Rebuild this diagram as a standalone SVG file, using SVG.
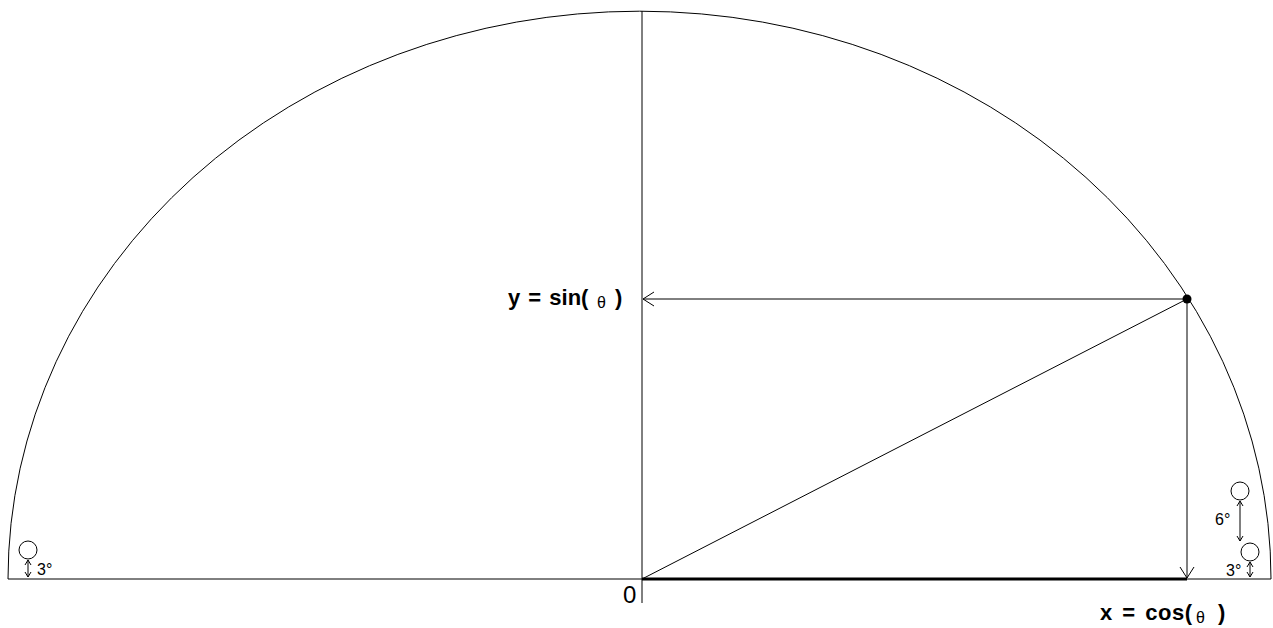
<svg xmlns="http://www.w3.org/2000/svg" width="1273" height="628" viewBox="0 0 1273 628">
<style>
.ln{stroke:#000;stroke-width:1;fill:none}
.lbl{font-family:"Liberation Sans",Arial,sans-serif;font-size:22px;font-weight:bold;fill:#000}
.th{font-family:"Liberation Sans",Arial,sans-serif;font-size:16px;fill:#000}
.sm{font-family:"Liberation Sans",Arial,sans-serif;font-size:16px;fill:#000}
.cir{stroke:#000;stroke-width:1;fill:#fff}
</style>
<defs>
<marker id="open" markerWidth="14" markerHeight="16" refX="12" refY="8" orient="auto" markerUnits="userSpaceOnUse">
<path d="M1,1 L12,8 L1,15" fill="none" stroke="#000" stroke-width="1"/>
</marker>
<marker id="sm" markerWidth="8" markerHeight="8" refX="6" refY="4" orient="auto-start-reverse" markerUnits="userSpaceOnUse">
<path d="M1,1 L6,4 L1,7" fill="none" stroke="#000" stroke-width="1"/>
</marker>
</defs>
<rect width="1273" height="628" fill="#fff"/>
<g id="arc">
<path class="ln" d="M8,579 A631.5,568 0 0 1 1271,579"/>
</g>
<g id="connectors">
<line class="ln" x1="8" y1="579" x2="1271" y2="579"/>
<line class="ln" x1="642" y1="11" x2="642" y2="603"/>
<line x1="642" y1="579" x2="1187" y2="579" stroke="#000" stroke-width="3"/>
<line class="ln" x1="642" y1="579" x2="1187" y2="299"/>
<line class="ln" x1="1187" y1="299" x2="643" y2="299" marker-end="url(#open)"/>
<line class="ln" x1="1187" y1="299" x2="1187" y2="578" marker-end="url(#open)"/>
<line class="ln" x1="28" y1="560" x2="28" y2="577" marker-start="url(#sm)" marker-end="url(#sm)"/>
<line class="ln" x1="1240" y1="501" x2="1240" y2="541" marker-start="url(#sm)" marker-end="url(#sm)"/>
<line class="ln" x1="1250" y1="562" x2="1250" y2="577" marker-start="url(#sm)" marker-end="url(#sm)"/>
</g>
<g id="point">
<circle cx="1187" cy="299" r="4.5" fill="#000"/>
</g>
<g id="origin">
<text x="623" y="603" class="lbl" style="font-weight:normal;font-size:24px">0</text>
</g>
<g id="sin-label">
<text x="508" y="305" class="lbl" style="word-spacing:2px">y = sin(</text>
<text x="597" y="308" class="th">θ</text>
<text x="615" y="305" class="lbl">)</text>
</g>
<g id="cos-label">
<text x="1100" y="620" class="lbl" style="word-spacing:3px;letter-spacing:0.5px">x = cos(</text>
<text x="1196" y="623" class="th">θ</text>
<text x="1218" y="620" class="lbl">)</text>
</g>
<g id="left-marker">
<circle class="cir" cx="28" cy="550" r="9"/>
<text x="37" y="575" class="sm">3°</text>
</g>
<g id="right-marker-6">
<circle class="cir" cx="1240" cy="491" r="9"/>
<text x="1215" y="525" class="sm">6°</text>
</g>
<g id="right-marker-3">
<circle class="cir" cx="1250" cy="552" r="9"/>
<text x="1226" y="576" class="sm">3°</text>
</g>
</svg>
